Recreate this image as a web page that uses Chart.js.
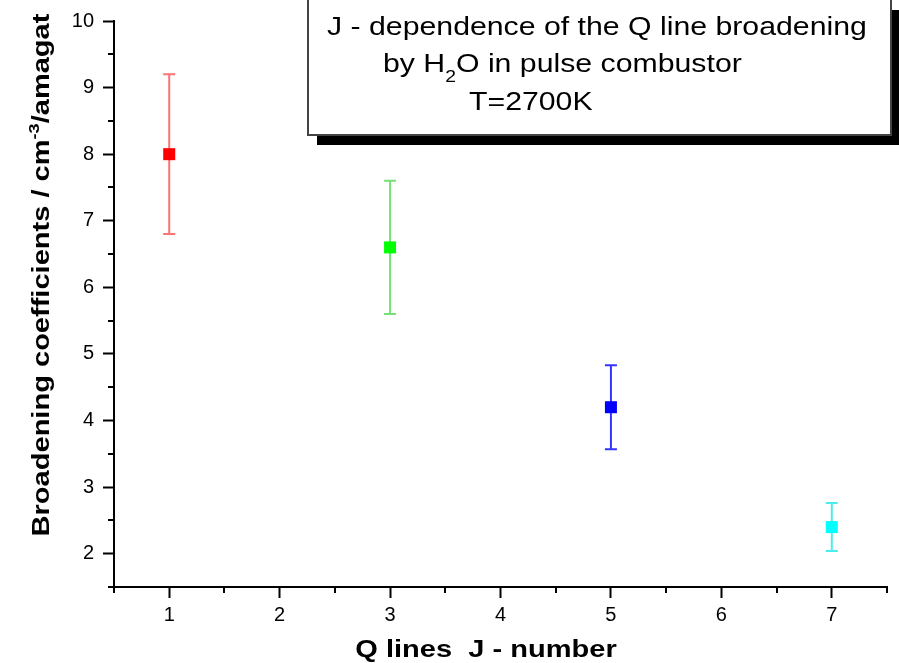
<!DOCTYPE html>
<html>
<head>
<meta charset="utf-8">
<script src="https://cdn.jsdelivr.net/npm/chart.js@4.4.1/dist/chart.umd.min.js"></script>
<style>
  html, body { margin: 0; padding: 0; background: #fff; }
  #wrap { width: 899px; height: 663px; }
</style>
</head>
<body>
<div id="wrap"><canvas id="c" width="899" height="663"></canvas></div>
<script>
// ── data ──
const jNumbers = [1, 3, 5, 7];
const coeffs = [8.0, 6.6, 4.2, 2.4];
const errors = [1.2, 1.0, 0.63, 0.36];
const colors = ["#ff0000", "#00ff00", "#0000ff", "#00ffff"];
const barColors = ["rgba(255,0,0,0.55)", "rgba(0,200,0,0.55)", "rgba(0,0,255,0.8)", "rgba(0,230,230,0.7)"];
const xTicks = [1, 2, 3, 4, 5, 6, 7];
const yTicks = [2, 3, 4, 5, 6, 7, 8, 9, 10];
const xMinor = [0.5, 1.5, 2.5, 3.5, 4.5, 5.5, 6.5, 7.5];
const yMinor = [1.5, 2.5, 3.5, 4.5, 5.5, 6.5, 7.5, 8.5, 9.5];

const FONT = "Arial, 'Liberation Sans', sans-serif";
const STRETCH = 1.21; // the original text is a bit wider than plain Arial

// draw a run of [text, font, dy] pieces, stretched horizontally
function drawRuns(ctx, runs, x, y, align) {
  ctx.save();
  ctx.textAlign = "left";
  let total = 0;
  runs.forEach(r => { ctx.font = r[1]; total += ctx.measureText(r[0]).width; });
  ctx.translate(x, y);
  ctx.scale(STRETCH, 1);
  let cx = align === "center" ? -total / 2 : 0;
  runs.forEach(r => {
    ctx.font = r[1];
    ctx.fillText(r[0], cx, r[2] || 0);
    cx += ctx.measureText(r[0]).width;
  });
  ctx.restore();
}

// error bars + minor ticks + titles + note box
const extras = {
  id: "extras",
  beforeDatasetsDraw(chart) {
    const { ctx } = chart;
    const x = chart.scales.x, y = chart.scales.y;
    ctx.save();
    ctx.lineWidth = 2;
    jNumbers.forEach((j, i) => {
      const px = x.getPixelForValue(j);
      const top = y.getPixelForValue(coeffs[i] + errors[i]);
      const bot = y.getPixelForValue(coeffs[i] - errors[i]);
      ctx.strokeStyle = barColors[i];
      ctx.beginPath();
      ctx.moveTo(px, top); ctx.lineTo(px, bot);
      ctx.moveTo(px - 6, top); ctx.lineTo(px + 6, top);
      ctx.moveTo(px - 6, bot); ctx.lineTo(px + 6, bot);
      ctx.stroke();
    });
    ctx.restore();
  },
  afterDraw(chart) {
    const { ctx, chartArea } = chart;
    const x = chart.scales.x, y = chart.scales.y;
    ctx.save();
    // minor ticks
    ctx.strokeStyle = "#000";
    ctx.lineWidth = 2;
    ctx.beginPath();
    xMinor.forEach(v => {
      const px = Math.round(x.getPixelForValue(v));
      ctx.moveTo(px, chartArea.bottom); ctx.lineTo(px, chartArea.bottom + 6);
    });
    yMinor.forEach(v => {
      const py = Math.round(y.getPixelForValue(v));
      ctx.moveTo(chartArea.left, py); ctx.lineTo(chartArea.left - 6, py);
    });
    ctx.stroke();

    ctx.fillStyle = "#000";
    ctx.textBaseline = "alphabetic";
    const B = "bold 24px " + FONT, Bs = "bold 15px " + FONT;

    // x title
    drawRuns(ctx, [["Q lines  J - number", B]], 486, 657, "center");

    // y title with superscript
    ctx.save();
    ctx.translate(49, 275);
    ctx.rotate(-Math.PI / 2);
    drawRuns(ctx, [["Broadening coefficients / cm", B], ["-3", Bs, -10], ["/amagat", B]], 0, 0, "center");
    ctx.restore();

    // note box with shadow
    ctx.fillStyle = "#000";
    ctx.fillRect(317, 10, 582, 135);
    ctx.fillStyle = "#fff";
    ctx.fillRect(308, -2, 583, 137);
    ctx.strokeStyle = "#444";
    ctx.lineWidth = 2;
    ctx.strokeRect(308, -2, 583, 137);

    ctx.fillStyle = "#000";
    const N = "25px " + FONT, Ns = "16px " + FONT;
    drawRuns(ctx, [["J - dependence of the Q line broadening", N]], 327, 35);
    drawRuns(ctx, [["by H", N], ["2", Ns, 10], ["O in pulse combustor", N]], 383, 72);
    drawRuns(ctx, [["T=2700K", N]], 469, 110);
    ctx.restore();
  }
};

new Chart(document.getElementById("c"), {
  type: "scatter",
  data: {
    datasets: [{
      data: jNumbers.map((j, i) => ({ x: j, y: coeffs[i] })),
      pointStyle: "rect",
      pointRadius: 8.5,
      pointBackgroundColor: colors,
      pointBorderColor: colors,
      pointBorderWidth: 0,
      showLine: false,
    }],
  },
  options: {
    responsive: false,
    animation: false,
    layout: { padding: { top: 20, right: 12, left: 0, bottom: 0 } },
    plugins: { legend: { display: false }, tooltip: { enabled: false } },
    scales: {
      x: {
        type: "linear",
        min: 0.5,
        max: 7.5,
        afterBuildTicks: (s) => { s.ticks = xTicks.map(v => ({ value: v })); },
        afterFit: (s) => { s.height = 76; },
        border: { display: true, color: "#000", width: 2 },
        grid: { drawOnChartArea: false, drawTicks: true, tickLength: 11, tickColor: "#000", tickWidth: 2 },
        ticks: { color: "#000", font: { family: FONT, size: 20 }, padding: 5, maxRotation: 0 },
      },
      y: {
        type: "linear",
        min: 1.5,
        max: 10,
        afterBuildTicks: (s) => { s.ticks = yTicks.map(v => ({ value: v })); },
        afterFit: (s) => { s.width = 114; },
        border: { display: true, color: "#000", width: 2 },
        grid: { drawOnChartArea: false, drawTicks: true, tickLength: 11, tickColor: "#000", tickWidth: 2 },
        ticks: { color: "#000", font: { family: FONT, size: 20 }, padding: 9 },
      },
    },
  },
  plugins: [extras],
});
</script>
</body>
</html>
